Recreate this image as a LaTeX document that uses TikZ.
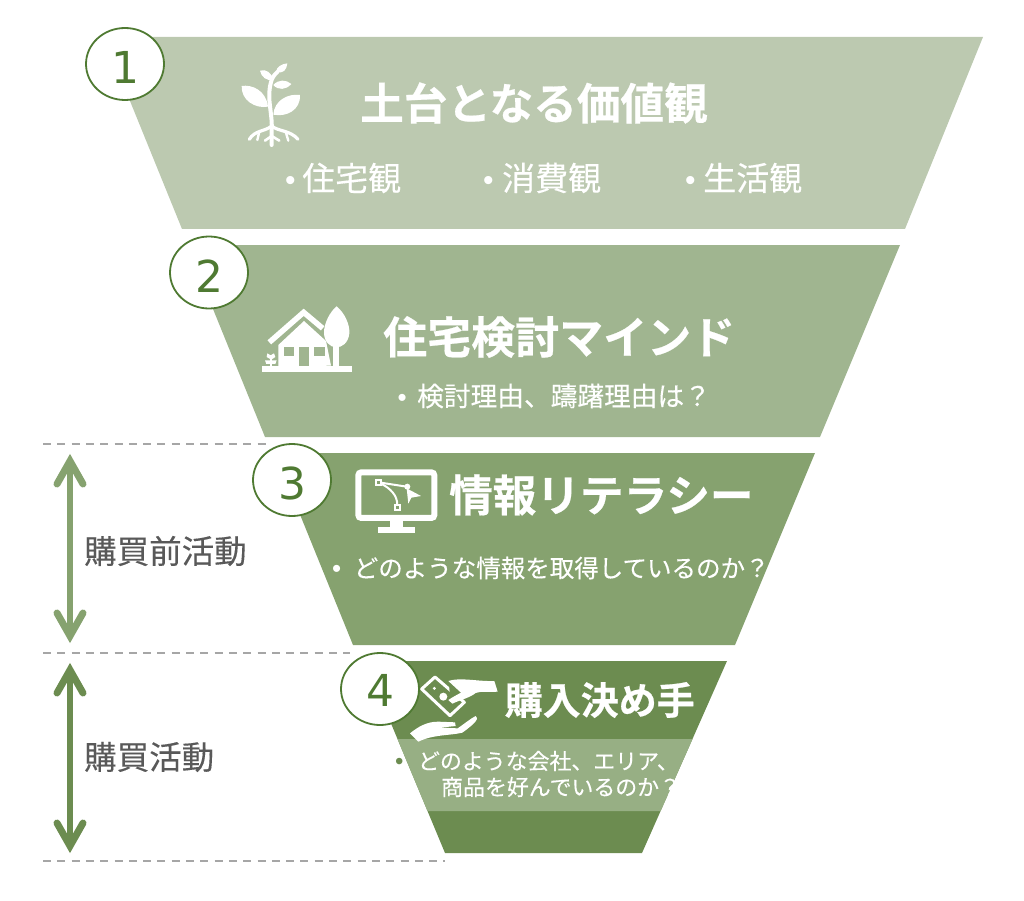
\documentclass[tikz,border=0pt]{standalone}
\usepackage{fontspec}
\usetikzlibrary{shapes.geometric}
\newfontfamily\jp[FakeBold=0.25,BoldFont={Noto Sans CJK JP Bold},BoldFeatures={FakeBold=0.5}]{Noto Sans CJK JP}
\newfontfamily\bul{Liberation Sans}
\newfontfamily\num{DejaVu Sans}
\newcommand{\fs}[1]{\fontsize{#1}{#1}\selectfont}
\definecolor{cA}{HTML}{BCC9B0}
\definecolor{cB}{HTML}{A0B590}
\definecolor{cC}{HTML}{86A26F}
\definecolor{cD}{HTML}{6C8C50}
\definecolor{cBand}{HTML}{97AF84}
\definecolor{cRing}{HTML}{4F7A32}
\definecolor{cTxt}{HTML}{595959}
\definecolor{cDash}{HTML}{A6A6A6}
\tikzset{
  x=1pt,y=-1pt,
  badge/.style={ellipse,draw=cRing,line width=1.8pt,fill=white,minimum width=78pt,minimum height=72pt,inner sep=0pt,text=cRing,font=\num\fs{44},text height=39pt,text depth=0pt},
  titletext/.style={anchor=west,inner sep=0pt,text=white,font=\jp\bfseries},
  subtext/.style={anchor=west,inner sep=0pt,text=white,font=\jp},
  sidetext/.style={anchor=west,inner sep=0pt,text=cTxt,font=\jp\fs{32.5}},
  guide/.style={draw=cDash,line width=1.3pt,dash pattern=on 8pt off 6.3pt},
  shaft/.style={line width=6pt},
  chevron/.style={line width=7pt,line cap=round,miter limit=10},
  icon/.style={fill=white,draw=none},
  iconline/.style={draw=white,line cap=round,line join=round},
}
\begin{document}
\begin{tikzpicture}
\useasboundingbox (0,0) rectangle (1024,901);
% funnel bands
\fill[cA] (104,37) -- (983,37) -- (905,229) -- (182,229) -- cycle;
\fill[cB] (187,245) -- (900,245) -- (820,437) -- (265,437) -- cycle;
\fill[cC] (275,453) -- (815,453) -- (735,645) -- (353,645) -- cycle;
\fill[cD] (365,661) -- (727,661) -- (642,853) -- (445,853) -- cycle;
\fill[cBand] (397.5,739) -- (692.5,739) -- (660.6,811) -- (427.5,811) -- cycle;
% guides
\coordinate (g1a) at (43,444); \coordinate (g1b) at (266,444);
\coordinate (g2a) at (43,653); \coordinate (g2b) at (350,653);
\coordinate (g3a) at (43,861); \coordinate (g3b) at (445,861);
\draw[guide] (g1a) -- (g1b);
\draw[guide] (g2a) -- (g2b);
\draw[guide] (g3a) -- (g3b);
% arrows
\coordinate (a1t) at (70,461); \coordinate (a1b) at (70,636);
\coordinate (a2t) at (70,670); \coordinate (a2b) at (70,846);
\draw[shaft,cC] (a1t) -- (a1b);
\draw[chevron,cC] ([shift={(-13,23)}]a1t) -- (a1t) -- ([shift={(13,23)}]a1t);
\draw[chevron,cC] ([shift={(-13,-23)}]a1b) -- (a1b) -- ([shift={(13,-23)}]a1b);
\draw[shaft,cD] (a2t) -- (a2b);
\draw[chevron,cD] ([shift={(-13,23)}]a2t) -- (a2t) -- ([shift={(13,23)}]a2t);
\draw[chevron,cD] ([shift={(-13,-23)}]a2b) -- (a2b) -- ([shift={(13,-23)}]a2b);
% side labels
\node[sidetext] (s1) at (84,551) {購買前活動};
\node[sidetext] (s2) at (84,757) {購買活動};
% badges
\node[badge] (b1) at (125,64) {1};
\node[badge] (b2) at (209,272.5) {2};
\node[badge] (b3) at (292,480) {3};
\node[badge,text height=34pt] (b4) at (380,689) {4};
% titles
\node[titletext,font=\jp\bfseries\fs{43.6}] (t1) at (360,103) {土台となる価値観};
\node[titletext,font=\jp\bfseries\fs{44}] (t2) at (383,337) {住宅検討マインド};
\node[titletext,font=\jp\bfseries\fs{43.6}] (t3) at (449,495) {情報リテラシー};
\node[titletext,font=\jp\bfseries\fs{38}] (t4) at (504.5,700) {購入決め手};
% subs
\node[subtext,font=\jp\fs{33}] (u1) at (285,178) {{\bul\fs{30}•}\hspace{6.5pt}住宅観};
\node[subtext,font=\jp\fs{33}] (u2) at (483,178) {{\bul\fs{30}•}\hspace{8.5pt}消費観};
\node[subtext,font=\jp\fs{33}] (u3) at (685,178) {{\bul\fs{30}•}\hspace{7.5pt}生活観};
\node[subtext,font=\jp\fs{26.7}] (u4) at (397.5,396) {{\bul\fs{26}•}\hspace{10.4pt}検討理由、躊躇理由は？};
\node[subtext,font=\jp\fs{24.5}] (u5) at (332,568) {{\bul\fs{26}•}\hspace{12.5pt}どのような情報を取得しているのか？};
\node[subtext,font=\jp\fs{21.9}] (u6) at (395,761) {{\bul\fs{24}\color{cD}•}\hspace{14.5pt}どのような会社、エリア、};
\node[subtext,font=\jp\fs{21.9}] (u7) at (441,787) {商品を好んでいるのか？};
% plant icon
\begin{scope}[shift={(220,50)},x=0.3333pt,y=-0.3333pt]
\draw[iconline,line width=4pt] (155,285) -- (155,240) .. controls (158,190) and (140,150) .. (152,100) .. controls (155,85) and (162,75) .. (172,66);
\fill[icon] (168,66) .. controls (170,50) and (185,42) .. (202,40) .. controls (200,60) and (190,72) .. cycle;
\fill[icon] (120,62) .. controls (138,56) and (155,68) .. (160,90) .. controls (140,94) and (123,80) .. cycle;
\fill[icon] (160,105) .. controls (175,88) and (198,88) .. (214,102) .. controls (198,120) and (175,122) .. cycle;
\fill[icon] (65,108) .. controls (95,103) and (138,120) .. (144,170) .. controls (105,177) and (63,150) .. cycle;
\fill[icon] (240,135) .. controls (205,130) and (163,150) .. (160,194) .. controls (200,202) and (242,180) .. cycle;
\draw[iconline,line width=3.2pt] (155,228) .. controls (135,245) and (105,240) .. (88,268);
\draw[iconline,line width=3.2pt] (155,228) .. controls (175,245) and (210,240) .. (234,268);
\draw[iconline,line width=2.4pt] (118,245) -- (112,270);
\draw[iconline,line width=2.4pt] (197,245) -- (205,272);
\draw[iconline,line width=2.6pt] (155,258) -- (135,272);
\draw[iconline,line width=2.6pt] (155,258) -- (178,272);
\end{scope}
% house icon
\begin{scope}[shift={(250,295)},x=0.3333pt,y=-0.3333pt]
\fill[icon] (35,212) rectangle (305,231);
\fill[icon] (85,215) -- (85,150) -- (162,78) -- (228,138) -- (243,212) -- cycle;
\draw[iconline,line width=5.5pt,line cap=butt,line join=miter] (58,142) -- (161,52) -- (218,100);
\fill[icon] (260,34) .. controls (285,55) and (300,90) .. (298,115) .. controls (295,145) and (275,157) .. (259,157) .. controls (240,157) and (222,140) .. (222,112) .. controls (222,85) and (240,50) .. cycle;
\fill[icon] (250,150) rectangle (268,212);
\fill[cB] (102,155) rectangle (133,182);
\fill[cB] (193,155) rectangle (224,182);
\fill[cB] (148,155) rectangle (178,212);
\fill[icon] (52,175) -- (62,181) -- (72,175) -- (76,186) -- (64,194) -- (50,186) -- cycle;
\fill[icon] (45,196) -- (80,196) -- (76,207) -- (49,207) -- cycle;
\fill[icon] (60,190) rectangle (66,212);
\end{scope}
% monitor icon
\begin{scope}[shift={(340,460)},x=0.3333pt,y=-0.3333pt]
\draw[draw=white,line width=6pt,rounded corners=3pt] (55,37) rectangle (283,174);
\fill[icon] (150,180) rectangle (190,203);
\fill[icon] (113,200) rectangle (225,218);
\draw[iconline,line width=2pt,line cap=butt] (122,68) -- (200,80);
\draw[iconline,line width=2pt,line cap=butt] (125,72) .. controls (150,85) and (172,105) .. (172,135);
\draw[draw=white,line width=2.2pt] (107,60) rectangle (124,76);
\draw[draw=white,line width=2.2pt] (164,134) rectangle (181,151);
\fill[icon] (202,80) circle (9);
\fill[icon] (200,85) -- (243,108) -- (214,113) -- (205,131) -- cycle;
\end{scope}
% money icon
\begin{scope}[shift={(405,665)},x=0.3333pt,y=-0.3333pt]
\draw[draw=white,line width=3pt,line join=round] (50,72) -- (90,36) -- (178,112) -- (135,152) -- cycle;
\fill[icon] (88,70) circle (5);
\fill[icon] (115,95) circle (12);
\fill[cD] (132,48) -- (148,48) -- (170,85) -- (135,105) -- cycle;
\fill[icon] (130,48) .. controls (165,36) and (220,50) .. (268,48) -- (278,80) .. controls (250,82) and (225,78) .. (212,84) .. controls (195,98) and (165,105) .. (142,116) -- (130,105) .. controls (145,95) and (155,90) .. (168,83) -- cycle;
\fill[icon] (15,205) .. controls (40,185) and (65,170) .. (100,170) -- (150,172) -- (152,183) -- (105,188) -- (158,190) .. controls (180,175) and (195,162) .. (212,153) .. controls (222,160) and (215,172) .. (172,203) .. controls (135,212) and (85,208) .. (40,230) -- cycle;
\end{scope}
\end{tikzpicture}
\end{document}
